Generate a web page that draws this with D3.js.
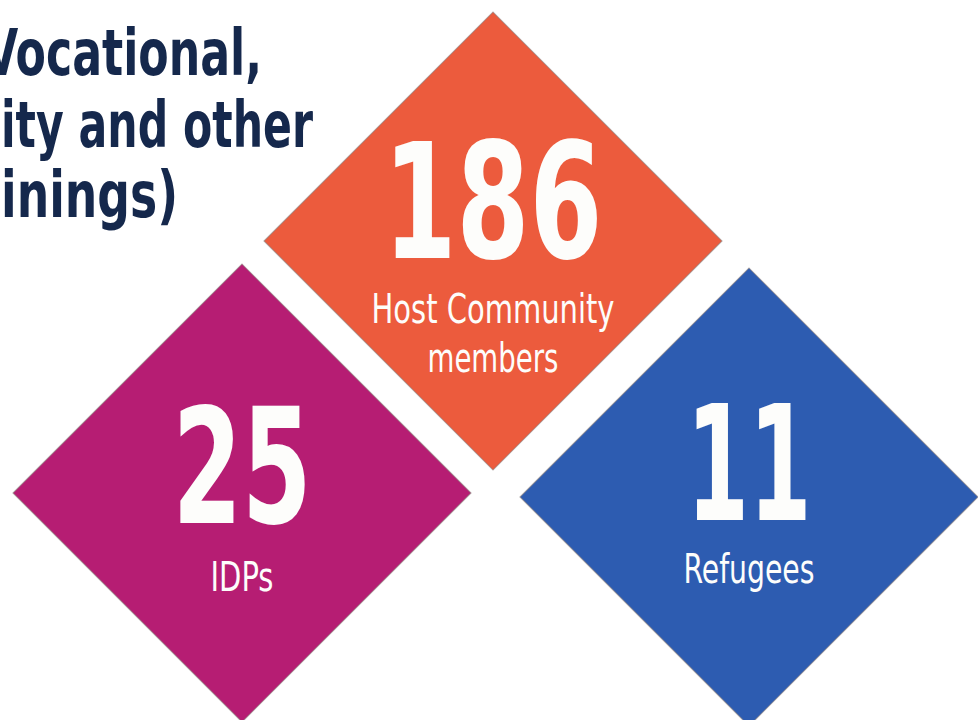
<!DOCTYPE html>
<html>
<head>
<meta charset="utf-8">
<script src="https://cdn.jsdelivr.net/npm/d3@7"></script>
<style>
  html, body { margin: 0; padding: 0; background: #fff; overflow: hidden; }
  svg text { font-family: "Liberation Sans Narrow", "DejaVu Sans Condensed", "Arial Narrow", sans-serif; font-stretch: condensed; }
</style>
</head>
<body>
<svg id="chart"></svg>
<script>
// chart values
let categories = ["host", "idp", "refugee"];
let counts = [186, 25, 11];
let labelLines = [["Host Community", "members"], ["IDPs"], ["Refugees"]];
let colors = ["#ec5b3d", "#b61d73", "#2d5cb1"];
let titleLines = ["Vocational,", "ity and other", "inings)"];

let width = 978, height = 720;

let svg = d3.select("#chart")
    .attr("width", width)
    .attr("height", height);

// layout of the three diamonds
let cx = d3.scaleOrdinal().domain(categories).range([493, 242, 749]);
let cy = d3.scaleOrdinal().domain(categories).range([241, 493, 497]);
let numY = d3.scaleOrdinal().domain(categories).range([17, 30, 23]);
let labY = d3.scaleOrdinal().domain(categories).range([82, 98, 86]);
let numW = d3.scaleOrdinal().domain(categories).range([219, 139, 125]);
let colorScale = d3.scaleOrdinal().domain(categories).range(colors);

let half = 229;
let diamond = d3.symbol().type(d3.symbolSquare).size(2 * half * half);

let data = categories.map((c, i) => ({key: c, value: counts[i], lines: labelLines[i]}));

// title (cut at the left edge)
let titleEnds = [262, 313, 178];
let titleW = [278, 312, 177];
let titleBase = [75, 147, 217];
svg.append("g").selectAll("text")
    .data(titleLines)
    .enter()
    .append("text")
    .attr("x", (d, i) => titleEnds[i])
    .attr("y", (d, i) => titleBase[i])
    .attr("text-anchor", "end")
    .attr("textLength", (d, i) => titleW[i])
    .attr("lengthAdjust", "spacingAndGlyphs")
    .attr("font-size", 64)
    .attr("font-weight", "bold")
    .attr("fill", "#15284c")
    .text(d => d);

let groups = svg.selectAll("g.tile")
    .data(data)
    .enter()
    .append("g")
    .attr("class", "tile")
    .attr("transform", d => "translate(" + cx(d.key) + "," + cy(d.key) + ")");

groups.append("path")
    .attr("d", diamond)
    .attr("transform", "rotate(45)")
    .attr("fill", d => colorScale(d.key))
    .attr("stroke", "#8a7f7c")
    .attr("stroke-opacity", 0.6)
    .attr("stroke-width", 1.2);

groups.append("text")
    .attr("x", 0)
    .attr("y", d => numY(d.key))
    .attr("text-anchor", "middle")
    .attr("font-size", 160)
    .attr("font-weight", "bold")
    .attr("fill", "#fdfdfb")
    .attr("textLength", d => numW(d.key))
    .attr("lengthAdjust", "spacingAndGlyphs")
    .text(d => d.value);

let lineW = {"Host Community": 243, "members": 131, "IDPs": 63, "Refugees": 131};

groups.each(function(d) {
    d3.select(this).selectAll("text.lab")
        .data(d.lines)
        .enter()
        .append("text")
        .attr("class", "lab")
        .attr("x", 0)
        .attr("y", (t, j) => labY(d.key) + j * 49)
        .attr("text-anchor", "middle")
        .attr("font-size", 40)
        .attr("fill", "#fdfdfb")
        .attr("textLength", t => lineW[t])
        .attr("lengthAdjust", "spacingAndGlyphs")
        .text(t => t);
});
</script>
</body>
</html>
